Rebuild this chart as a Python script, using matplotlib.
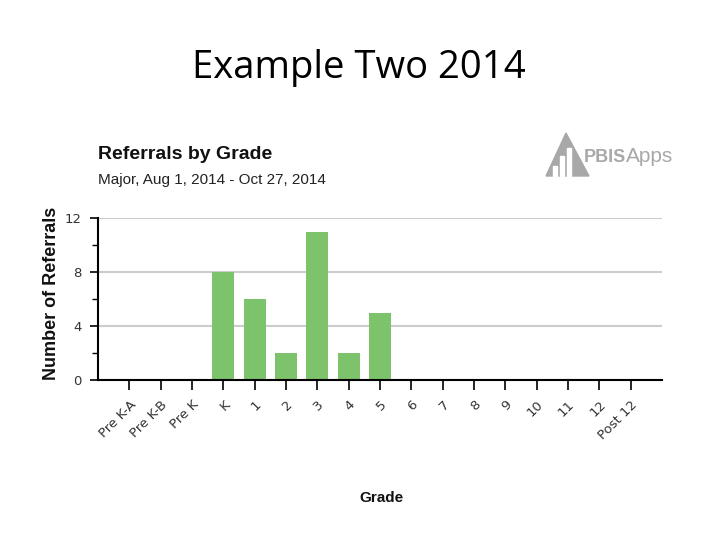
import numpy as np
import matplotlib.pyplot as plt
from matplotlib.patches import Polygon, Rectangle

# ── 資料 ─────────────────────────────────────────────────────────────
grades = ['Pre K-A', 'Pre K-B', 'Pre K', 'K', '1', '2', '3', '4', '5',
          '6', '7', '8', '9', '10', '11', '12', 'Post 12']
referrals = [0, 0, 0, 8, 6, 2, 11, 2, 5, 0, 0, 0, 0, 0, 0, 0, 0]

BAR_COLOR = '#7cc36b'

fig = plt.figure(figsize=(7.2, 5.4), dpi=100)
W, H = 720, 540

# ── 頁面標題 ─────────────────────────────────────────────────────────
fig.text(359 / W, 1 - 68 / H, 'Example Two 2014', ha='center', va='center',
         fontsize=27.5, family='Open Sans', color='black')

# ── 圖表標題 ─────────────────────────────────────────────────────────
fig.text(98 / W, 1 - 155 / H, 'Referrals by Grade', ha='left', va='center',
         fontsize=14, fontweight='bold', family='Liberation Sans',
         color='#111111')
fig.text(98 / W, 1 - 180 / H, 'Major, Aug 1, 2014 - Oct 27, 2014', ha='left',
         va='center', fontsize=11, family='Liberation Sans', color='#222222')

# ── 長條圖 ───────────────────────────────────────────────────────────
ax = fig.add_axes([98 / W, 1 - 380 / H, (662 - 98) / W, (380 - 218) / H])
x = np.arange(len(grades))
ax.bar(x, referrals, width=0.7, color=BAR_COLOR, zorder=2)

ax.set_xlim(-1, len(grades))
ax.set_ylim(0, 12)
ax.set_yticks([0, 4, 8, 12])
ax.set_yticks([2, 6, 10], minor=True)
ax.yaxis.grid(True, color='#cccccc', linewidth=1.5, zorder=0)
ax.set_axisbelow(True)

for s in ['top', 'right']:
    ax.spines[s].set_visible(False)
ax.spines['left'].set_linewidth(1.5)
ax.spines['bottom'].set_linewidth(1.5)

ax.set_xticks(x)
ax.set_xticklabels(grades, rotation=45, ha='right', rotation_mode='anchor',
                   fontsize=9.5, family='DejaVu Sans', color='#333333')
ax.tick_params(axis='x', length=7, width=1.2, pad=6)
ax.tick_params(axis='y', which='major', length=6, width=1.2, labelsize=9.5,
               labelcolor='#333333', pad=6)
ax.tick_params(axis='y', which='minor', length=4, width=1)

fig.text(52 / W, 1 - 293 / H, 'Number of Referrals', rotation=90,
         ha='center', va='center', fontsize=13, fontweight='bold',
         family='Liberation Sans', color='#111111')
fig.text(381 / W, 1 - 498 / H, 'Grade', ha='center', va='center',
         fontsize=11, fontweight='bold', family='Liberation Sans',
         color='#111111')

# ── PBISApps 標誌 ────────────────────────────────────────────────────
logo_gray = '#a8a8a8'
tri = Polygon([[546 / W, 1 - 176 / H], [566 / W, 1 - 133 / H],
               [589 / W, 1 - 176 / H]], closed=True,
              transform=fig.transFigure, color=logo_gray)
fig.patches.append(tri)
for bx, bh in [(553, 10), (560, 20), (567, 28)]:
    fig.patches.append(Rectangle((bx / W, 1 - 176 / H), 4 / W, bh / H,
                                 transform=fig.transFigure, color='white'))
t_pbis = fig.text(584 / W, 1 - 157 / H, 'PBIS', ha='left', va='center',
                  fontsize=13, fontweight='bold', family='Liberation Sans',
                  color=logo_gray)
# "Apps" 緊接在 "PBIS" 之後
ax.annotate('Apps', xy=(1.0, 0.5), xycoords=t_pbis, ha='left', va='center',
            fontsize=15, family='Liberation Sans', color=logo_gray,
            annotation_clip=False)

fig.savefig('out.png', dpi=100)
